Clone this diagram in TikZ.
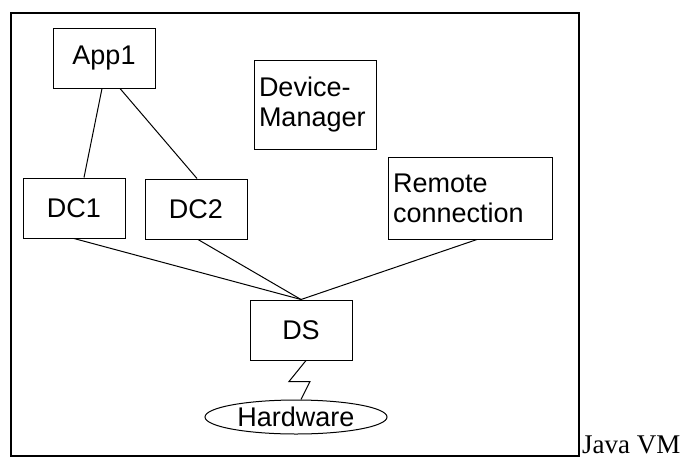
\documentclass[tikz,border=0pt]{standalone}
\usepackage{fontspec}
\setmainfont{Liberation Sans}
\newfontfamily\serifvm{Liberation Serif}
\usepackage{tikz}
\usetikzlibrary{shapes.geometric}

\tikzset{
  box/.style={draw, rectangle, line width=1pt, inner sep=0pt,
    font=\fontsize{27}{30}\selectfont},
  leftbox/.style={box, align=left, inner xsep=5pt},
  link/.style={line width=1pt}
}

\begin{document}
\begin{tikzpicture}[x=1pt, y=-1pt]
        \useasboundingbox (0,0) rectangle (687,458);

        % Java VM frame
        \draw[line width=2pt] (11,13) rectangle (579,456);
        \node[anchor=base west, inner sep=0pt, font=\serifvm\fontsize{27}{30}\selectfont] (jvm) at (582,453) {Java VM};

        % Boxes
        \node[box, minimum width=102pt, minimum height=60pt] (app1) at (104,58) {App1};
        \node[leftbox, minimum width=122pt, minimum height=89pt, text width=112pt] (devmgr) at (315,104.5) {Device-\\Manager};
        \node[box, minimum width=102pt, minimum height=60pt] (dca) at (74,208) {DC1};
        \node[box, minimum width=102pt, minimum height=60pt] (dcb) at (196,209) {DC2};
        \node[leftbox, minimum width=164pt, minimum height=82pt, text width=154pt] (remote) at (470,198) {Remote\\connection};
        \node[box, minimum width=102pt, minimum height=60pt] (ds) at (301,330) {DS};
        \node[box, ellipse, minimum width=182pt, minimum height=34pt] (hw) at (296,417) {Hardware};

        % App1 to the device clients
        \draw[link] ([xshift=-2pt]app1.south) -- ([xshift=10pt]dca.north);
        \draw[link] ([xshift=16pt]app1.south) -- ([xshift=1pt]dcb.north);

        % clients to DS
        \draw[link] (dca.south) -- (ds.north);
        \draw[link] ([xshift=2pt]dcb.south) -- (ds.north);
        \draw[link] ([xshift=7pt]remote.south) -- (ds.north);

        % DS to hardware (zigzag)
        \draw[link] ([xshift=5pt]ds.south) -- ++(-17,21) -- ++(21,0) -- ([xshift=5pt]hw.north);

\end{tikzpicture}
\end{document}
